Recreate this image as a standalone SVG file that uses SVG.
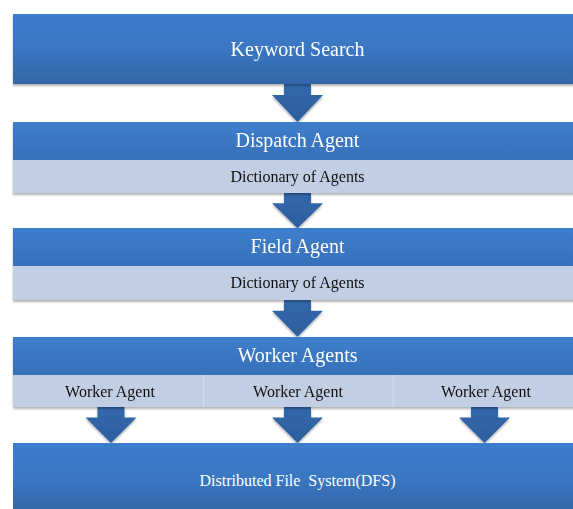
<svg xmlns="http://www.w3.org/2000/svg" width="573" height="509" viewBox="0 0 573 509">
  <defs>
    <linearGradient id="gBig" x1="0" y1="0" x2="0" y2="1">
      <stop offset="0" stop-color="#3c7dcb"/>
      <stop offset="0.5" stop-color="#3a77c3"/>
      <stop offset="1" stop-color="#3365a7"/>
    </linearGradient>
    <linearGradient id="gHead" x1="0" y1="0" x2="0" y2="1">
      <stop offset="0" stop-color="#3d7ecc"/>
      <stop offset="1" stop-color="#3870ba"/>
    </linearGradient>
    <linearGradient id="gArrow" x1="0" y1="0" x2="0" y2="1">
      <stop offset="0" stop-color="#3368ad"/>
      <stop offset="1" stop-color="#2c5d9c"/>
    </linearGradient>
    <filter id="shadow" x="-5%" y="-20%" width="110%" height="150%">
      <feDropShadow dx="0" dy="2" stdDeviation="1.2" flood-color="#000" flood-opacity="0.3"/>
    </filter>
    <path id="arrow" d="M-13.5,0 H13.5 V11 H25.5 L0,38 L-25.5,11 H-13.5 Z"/>
  </defs>
  <style>
    .big { fill: url(#gBig); }
    .head { fill: url(#gHead); }
    .band { fill: #c2cee3; }
    .div { stroke: #d6deec; stroke-width: 1; }
    .arr { fill: url(#gArrow); filter: url(#shadow); }
    .t { font-family: "Liberation Serif", "Times New Roman", serif; text-anchor: middle; }
    .w20 { fill: #ffffff; font-size: 20px; }
    .w16 { fill: #ffffff; font-size: 16px; }
    .k16 { fill: #111111; font-size: 16px; }
  </style>

  <g id="connectors">
    <use href="#arrow" class="arr" transform="translate(297.5,84)"/>
    <use href="#arrow" class="arr" transform="translate(297.5,193) scale(1,0.93)"/>
    <use href="#arrow" class="arr" transform="translate(297.5,300) scale(1,0.97)"/>
    <use href="#arrow" class="arr" transform="translate(111,407) scale(1,0.95)"/>
    <use href="#arrow" class="arr" transform="translate(297.5,407) scale(1,0.95)"/>
    <use href="#arrow" class="arr" transform="translate(484.5,407) scale(1,0.95)"/>
  </g>

  <g id="keyword-search" filter="url(#shadow)">
    <rect x="13" y="14" width="570" height="70" class="big"/>
    <text x="297.5" y="56" class="t w20">Keyword Search</text>
  </g>

  <g id="dispatch-agent" filter="url(#shadow)">
    <rect x="13" y="122" width="570" height="38" class="head"/>
    <rect x="13" y="160" width="570" height="33" class="band"/>
    <text x="297.5" y="147" class="t w20">Dispatch Agent</text>
    <text x="297.5" y="182" class="t k16">Dictionary of Agents</text>
  </g>

  <g id="field-agent" filter="url(#shadow)">
    <rect x="13" y="228" width="570" height="38" class="head"/>
    <rect x="13" y="266" width="570" height="34" class="band"/>
    <text x="297.5" y="253" class="t w20">Field Agent</text>
    <text x="297.5" y="288" class="t k16">Dictionary of Agents</text>
  </g>

  <g id="worker-agents" filter="url(#shadow)">
    <rect x="13" y="337" width="570" height="38" class="head"/>
    <rect x="13" y="375" width="570" height="32" class="band"/>
    <line x1="203.5" y1="375" x2="203.5" y2="407" class="div"/>
    <line x1="393" y1="375" x2="393" y2="407" class="div"/>
    <text x="297.5" y="362" class="t w20">Worker Agents</text>
    <text x="110" y="397" class="t k16">Worker Agent</text>
    <text x="298" y="397" class="t k16">Worker Agent</text>
    <text x="486" y="397" class="t k16">Worker Agent</text>
  </g>

  <g id="dfs">
    <rect x="13" y="443" width="570" height="70" class="big"/>
    <text x="297.5" y="486" class="t w16" xml:space="preserve">Distributed File  System(DFS)</text>
  </g>
</svg>
